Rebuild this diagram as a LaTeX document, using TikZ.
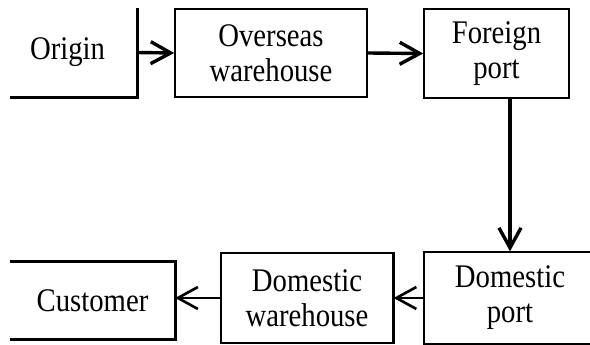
\documentclass[tikz,border=0pt]{standalone}
\usepackage{fontspec}
\setmainfont[FakeStretch=0.87]{Liberation Serif}
\usetikzlibrary{arrows.meta}
\begin{document}
\begin{tikzpicture}[x=1pt,y=-1pt,
  every node/.style={font=\fontsize{33}{35}\selectfont, align=center, inner sep=0pt},
  stagebox/.style={draw, line width=1.6pt, rectangle},
  openbox/.style={rectangle},
  edgeline/.style={line width=3pt},
  flow/.style={line width=3.4pt, -{Straight Barb[length=20pt,width=22pt]}},
  flowthin/.style={line width=2.6pt, -{Straight Barb[length=20pt,width=22pt]}}]
\useasboundingbox (0,0) rectangle (590,345);

% origin and customer: open frames (right side plus one or two rules)
\node[openbox, minimum width=127pt, minimum height=89pt] (origin) at (73.5,52.5) {};
\node (origintext) at (67.5,52) {Origin};
\draw[edgeline] (origin.north east) -- (origin.south east) -- (origin.south west);

\node[openbox, minimum width=165pt, minimum height=77pt] (customer) at (92.5,300.5) {Customer};
\draw[edgeline] (customer.north west) -- (customer.north east) -- (customer.south east) -- (customer.south west);

% closed stages
\node[stagebox, minimum width=192pt, minimum height=88pt] (overseas) at (271,53) {Overseas\\warehouse};
\node[stagebox, minimum width=145pt, minimum height=89pt] (fport) at (496.5,53.5) {Foreign\\port};
\node[stagebox, line width=1.3pt, minimum width=172pt, minimum height=92pt] (dport) at (510,298) {Domestic\\port};
\node[stagebox, line width=1.3pt, minimum width=172pt, minimum height=90pt] (dwarehouse) at (307,298) {Domestic\\warehouse};
\draw[line width=3pt] (dwarehouse.north east) -- (dwarehouse.south east);

% flows
\draw[flow] (origin.east) -- (overseas.west);
\draw[flow] (overseas.east) -- (fport.west);
\draw[flow] (dport.north |- fport.south) -- (dport.north);
\draw[flowthin] (dport.west) -- (dwarehouse.east);
\draw[flowthin] (dwarehouse.west) -- (dwarehouse.west -| customer.east);
\end{tikzpicture}
\end{document}
